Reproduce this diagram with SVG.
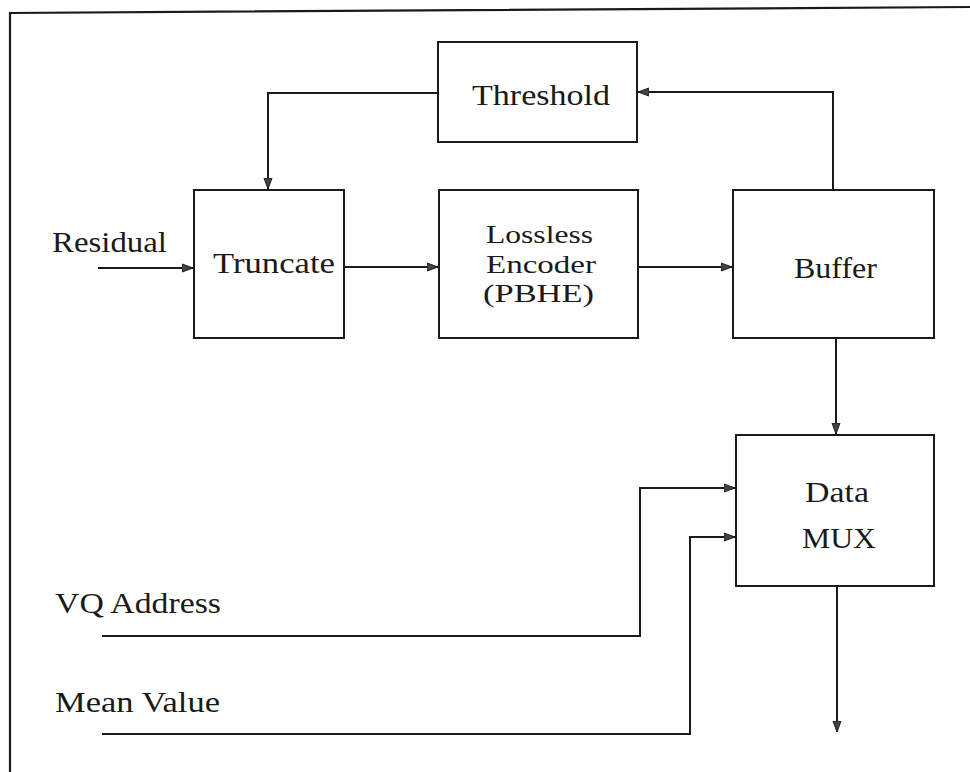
<svg xmlns="http://www.w3.org/2000/svg" width="970" height="772" viewBox="0 0 970 772">
  <style>
    .box { fill: none; stroke: #1a1a1a; stroke-width: 2; }
    .wire { fill: none; stroke: #1a1a1a; stroke-width: 2; }
    .frame { fill: none; stroke: #1a1a1a; stroke-width: 2.2; }
    text { font-family: "Liberation Serif", "DejaVu Serif", serif; font-size: 29px; fill: #1a1a1a; }
    .stack { font-size: 26px; }
  </style>
  <defs>
    <marker id="arrow" markerWidth="12" markerHeight="10" refX="11" refY="5" orient="auto" markerUnits="userSpaceOnUse">
      <path d="M0,1 L11,5 L0,9 Z" fill="#444" stroke="#1a1a1a" stroke-width="1"/>
    </marker>
  </defs>

  <rect width="970" height="772" fill="#ffffff"/>

  <!-- page frame -->
  <path class="frame" d="M10,772 L10,13 L970,7"/>

  <g id="threshold">
    <rect class="box" x="438" y="42" width="199" height="100"/>
    <text x="472" y="105" textLength="138" lengthAdjust="spacingAndGlyphs">Threshold</text>
  </g>

  <g id="truncate">
    <rect class="box" x="194" y="190" width="150" height="148"/>
    <text x="213" y="273" textLength="122" lengthAdjust="spacingAndGlyphs">Truncate</text>
  </g>

  <g id="lossless-encoder">
    <rect class="box" x="439" y="190" width="199" height="148"/>
    <text class="stack" x="486" y="243" textLength="107" lengthAdjust="spacingAndGlyphs">Lossless</text>
    <text class="stack" x="486" y="273" textLength="110" lengthAdjust="spacingAndGlyphs">Encoder</text>
    <text class="stack" x="483" y="302" textLength="111" lengthAdjust="spacingAndGlyphs">(PBHE)</text>
  </g>

  <g id="buffer">
    <rect class="box" x="733" y="190" width="201" height="148"/>
    <text x="794" y="278" textLength="83" lengthAdjust="spacingAndGlyphs">Buffer</text>
  </g>

  <g id="data-mux">
    <rect class="box" x="736" y="435" width="198" height="151"/>
    <text x="805" y="502" textLength="64" lengthAdjust="spacingAndGlyphs">Data</text>
    <text x="802" y="548" textLength="74" lengthAdjust="spacingAndGlyphs">MUX</text>
  </g>

  <g id="inputs">
    <text x="52" y="252" textLength="115" lengthAdjust="spacingAndGlyphs">Residual</text>
    <text x="55" y="613" textLength="166" lengthAdjust="spacingAndGlyphs">VQ Address</text>
    <text x="55" y="712" textLength="165" lengthAdjust="spacingAndGlyphs">Mean Value</text>
  </g>

  <g id="connectors">
    <!-- residual into truncate -->
    <path class="wire" d="M98,268 L193,268" marker-end="url(#arrow)"/>
    <!-- truncate to encoder -->
    <path class="wire" d="M344,267 L438,267" marker-end="url(#arrow)"/>
    <!-- encoder to buffer -->
    <path class="wire" d="M638,267 L732,267" marker-end="url(#arrow)"/>
    <!-- buffer fullness back to threshold -->
    <path class="wire" d="M833,190 L833,92 L638,92" marker-end="url(#arrow)"/>
    <!-- threshold down to truncate -->
    <path class="wire" d="M438,93 L268,93 L268,189" marker-end="url(#arrow)"/>
    <!-- buffer to mux -->
    <path class="wire" d="M836,338 L836,434" marker-end="url(#arrow)"/>
    <!-- VQ address into mux -->
    <path class="wire" d="M102,636 L640,636 L640,488 L735,488" marker-end="url(#arrow)"/>
    <!-- mean value into mux -->
    <path class="wire" d="M102,734 L690,734 L690,537 L735,537" marker-end="url(#arrow)"/>
    <!-- mux output -->
    <path class="wire" d="M837,586 L837,732" marker-end="url(#arrow)"/>
  </g>
</svg>
